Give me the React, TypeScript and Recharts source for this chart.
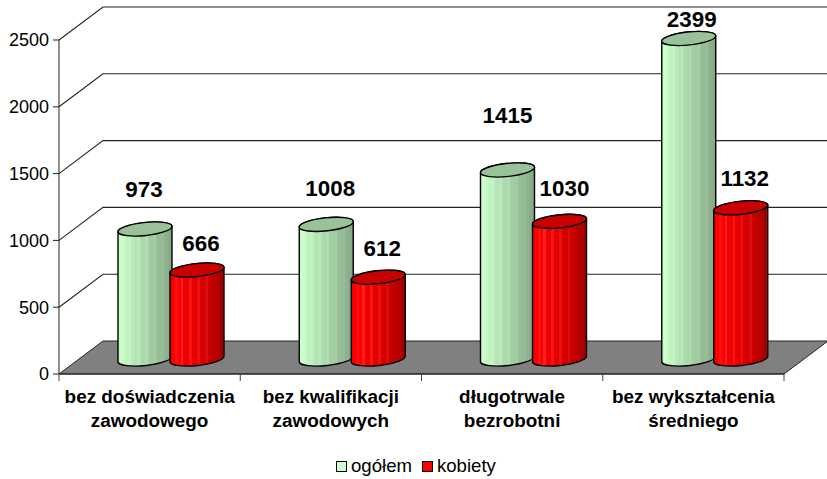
import { BarChart, Bar, XAxis, YAxis, CartesianGrid, Legend, LabelList } from "recharts";

const categories = [
  ["bez doświadczenia", "zawodowego"],
  ["bez kwalifikacji", "zawodowych"],
  ["długotrwale", "bezrobotni"],
  ["bez wykształcenia", "średniego"],
];
const ogolem = [973, 1008, 1415, 2399];
const kobiety = [666, 612, 1030, 1132];
const yTicks = [0, 500, 1000, 1500, 2000, 2500];

// label nudges relative to the bar's top centre (Excel 3D placement is irregular)
const ogolemNudge = [[20, -55], [25, -51], [21, -69], [24, -34]];
const kobietyNudge = [[25, -42], [25, -44], [26, -48], [25, -44]];

const greenBands = ["#c8fcc8", "#ccffcc", "#c6f8c6", "#c0f2c0", "#c4f4c4", "#b8e9b8", "#b4e4b4", "#bce8bc", "#aedcae", "#aad8aa", "#b2dcb2", "#a4cfa4", "#a0cba0", "#a6cca6", "#98c098", "#94bb94", "#98bb98", "#8fb38f", "#8aae8a", "#86a886"];
const redBands = ["#f00000", "#ff0000", "#ff1010", "#fa0000", "#ff2020", "#f20000", "#ee0000", "#f61414", "#e60000", "#e20000", "#ea1010", "#d80000", "#d40000", "#da0c0c", "#ca0000", "#c60000", "#bc0000", "#b40000", "#aa0000", "#a00000"];

const DEPTH_X = 44;
const DEPTH_Y = 33;
const FONT = "Liberation Sans, Arial, sans-serif";

const data = categories.map((c, i) => ({ name: c.join(" "), ogolem: ogolem[i], kobiety: kobiety[i] }));

function bandStops(bands: string[]) {
  return bands.flatMap((c, i) => [
    <stop key={`${i}a`} offset={i / bands.length} stopColor={c} />,
    <stop key={`${i}b`} offset={(i + 1) / bands.length} stopColor={c} />,
  ]);
}

function Cylinder(props: any) {
  const { x, y, width, height, gradient, cap } = props;
  // bars stand about halfway along the floor depth
  const left = x + 21;
  const right = left + width;
  const top = y - 15;
  const bottom = top + height;
  const rx = width / 2;
  const ry = 6.5;
  const tilt = 3;
  const arc = `A ${rx} ${ry} -6 0`;
  return (
    <g stroke="#000" strokeWidth={1.4}>
      <path
        d={`M ${left} ${top + tilt} L ${left} ${bottom + tilt} ${arc} 0 ${right} ${bottom - tilt} L ${right} ${top - tilt} ${arc} 0 ${left} ${top + tilt} Z`}
        fill={`url(#${gradient})`}
      />
      <path
        d={`M ${left} ${top + tilt} ${arc} 1 ${right} ${top - tilt} ${arc} 1 ${left} ${top + tilt} Z`}
        fill={cap}
      />
    </g>
  );
}

function WallLine(props: any) {
  const { x1, x2, y1 } = props;
  // bottom line is the floor, the others run along the side and back walls
  if (Math.abs(y1 - 374) < 1) {
    return (
      <polygon
        points={`${x1},${y1} ${x2},${y1} ${x2 + DEPTH_X},${y1 - DEPTH_Y} ${x1 + DEPTH_X},${y1 - DEPTH_Y}`}
        fill="#808080"
        stroke="#222"
        strokeWidth={1}
      />
    );
  }
  return (
    <polyline
      points={`${x1},${y1} ${x1 + DEPTH_X},${y1 - DEPTH_Y} ${x2 + DEPTH_X},${y1 - DEPTH_Y}`}
      fill="none"
      stroke="#222"
      strokeWidth={1.1}
    />
  );
}

function CategoryTick(props: any) {
  const { x, y, index, width } = props;
  const half = width / categories.length / 2;
  const axisY = 374;
  return (
    <g>
      {/* ticks sit on the category boundaries, not on the centres */}
      <line x1={x - half} x2={x - half} y1={axisY} y2={axisY + 7} stroke="#444" />
      {index === categories.length - 1 && (
        <line x1={x + half} x2={x + half} y1={axisY} y2={axisY + 7} stroke="#444" />
      )}
      <text x={x} y={y} textAnchor="middle" fontFamily={FONT} fontSize={18.9} fontWeight="bold" fill="#000">
        <tspan x={x} dy={20}>{categories[index][0]}</tspan>
        <tspan x={x} dy={24}>{categories[index][1]}</tspan>
      </text>
    </g>
  );
}

function valueLabel(nudge: number[][]) {
  return (props: any) => {
    const { x, y, width, value, index } = props;
    return (
      <text
        x={x + width / 2 + nudge[index][0]}
        y={y + nudge[index][1]}
        textAnchor="middle"
        dominantBaseline="central"
        fontFamily={FONT}
        fontSize={22.4}
        fontWeight="bold"
        fill="#000"
      >
        {value}
      </text>
    );
  };
}

function LegendBox({ payload }: any) {
  return (
    <div style={{ display: "flex", fontFamily: FONT, fontSize: 18.6, color: "#000", lineHeight: "20px" }}>
      {payload.map((p: any) => (
        <div key={p.value} style={{ display: "flex", alignItems: "center", marginRight: 10 }}>
          <span style={{ width: 9, height: 9, background: p.color, border: "1.5px solid #000", marginRight: 4 }} />
          {p.value}
        </div>
      ))}
    </div>
  );
}

export default function App() {
  return (
    <div style={{ position: "absolute", left: 0, top: 0, width: 827, height: 479, background: "#fff" }}>
      <BarChart
        width={827}
        height={479}
        data={data}
        margin={{ top: 40, right: 43, bottom: 0, left: 0 }}
        barSize={54}
        barGap={-2}
      >
        <defs>
          <linearGradient id="greenBody" x1="0" y1="0" x2="1" y2="0">{bandStops(greenBands)}</linearGradient>
          <linearGradient id="redBody" x1="0" y1="0" x2="1" y2="0">{bandStops(redBands)}</linearGradient>
        </defs>
        <CartesianGrid vertical={false} horizontal={(p: any) => <WallLine {...p} />} />
        <XAxis
          dataKey="name"
          height={105}
          interval={0}
          tick={<CategoryTick />}
          tickSize={7}
          tickLine={false}
          axisLine={{ stroke: "#222" }}
        />
        <YAxis
          width={59}
          domain={[0, 2500]}
          ticks={yTicks}
          interval={0}
          tickSize={6}
          tickMargin={4}
          tickLine={{ stroke: "#222" }}
          axisLine={{ stroke: "#222" }}
          tick={{ fontFamily: FONT, fontSize: 18, fill: "#000" }}
        />
        <Legend
          layout="horizontal"
          verticalAlign="middle"
          itemSorter={null}
          content={<LegendBox />}
          wrapperStyle={{ top: 456, left: 336, width: 180 }}
        />
        <Bar
          dataKey="ogolem"
          name="ogółem"
          fill="#ccffcc"
          isAnimationActive={false}
          shape={(p: any) => <Cylinder {...p} gradient="greenBody" cap="#99c299" />}
        >
          <LabelList dataKey="ogolem" content={valueLabel(ogolemNudge)} />
        </Bar>
        <Bar
          dataKey="kobiety"
          name="kobiety"
          fill="#ff0000"
          isAnimationActive={false}
          shape={(p: any) => <Cylinder {...p} gradient="redBody" cap="#c80000" />}
        >
          <LabelList dataKey="kobiety" content={valueLabel(kobietyNudge)} />
        </Bar>
      </BarChart>
    </div>
  );
}
